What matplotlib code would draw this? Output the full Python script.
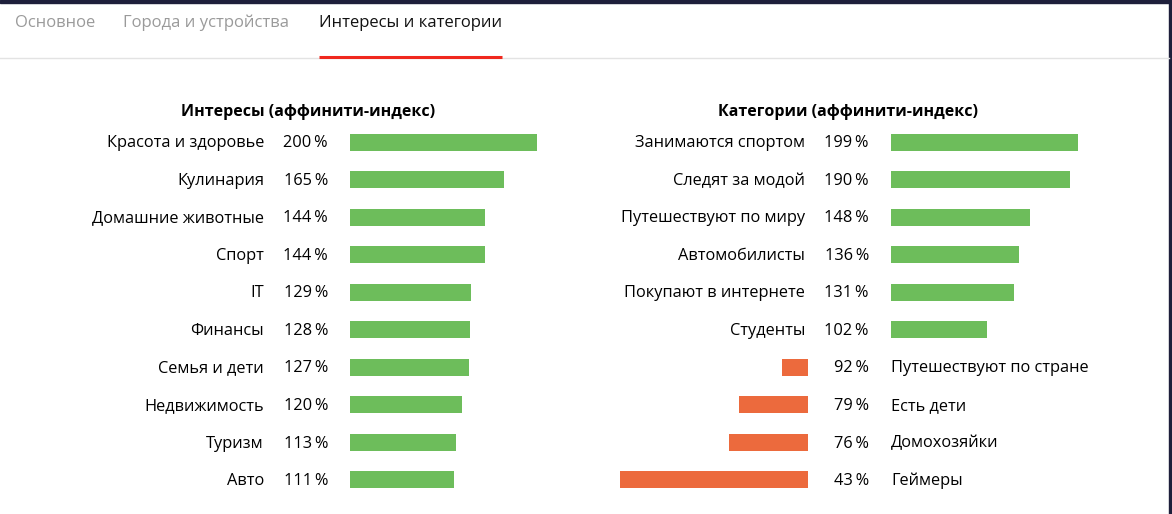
import matplotlib.pyplot as plt
from matplotlib.transforms import blended_transform_factory

W, H = 1172, 514

interest_labels = ["Красота и здоровье", "Кулинария", "Домашние животные", "Спорт", "IT",
                   "Финансы", "Семья и дети", "Недвижимость", "Туризм", "Авто"]
interest_values = [200, 165, 144, 144, 129, 128, 127, 120, 113, 111]

category_labels = ["Занимаются спортом", "Следят за модой", "Путешествуют по миру",
                   "Автомобилисты", "Покупают в интернете", "Студенты",
                   "Путешествуют по стране", "Есть дети", "Домохозяйки", "Геймеры"]
category_values = [199, 190, 148, 136, 131, 102, 92, 79, 76, 43]

tabs = ["Основное", "Города и устройства", "Интересы и категории"]

GREEN = "#6dbd5b"
ORANGE = "#ec6a3d"
FONT = "Open Sans"
FS = 11.8

plt.rcParams['font.family'] = [FONT, 'DejaVu Sans']

fig = plt.figure(figsize=(W / 100, H / 100), dpi=100)
fig.patch.set_facecolor("white")


def fx(px):
    return px / W


def fy(py):
    return 1 - py / H


def px_axes(x0, x1, y0, y1):
    ax = fig.add_axes([fx(x0), fy(y1), fx(x1) - fx(x0), (y1 - y0) / H])
    ax.set_axis_off()
    return ax


# frame bits of the screenshot
bg = fig.add_axes([0, 0, 1, 1])
bg.set_axis_off()
bg.set_xlim(0, W)
bg.set_ylim(H, 0)
bg.axhspan(0, 3, color="#1e1f3b")
bg.axvspan(1169, W, color="#1e1f3b")
bg.plot([0, 1169], [57.5, 57.5], color="#e3e3e3", lw=1)
bg.plot([319, 502], [56.5, 56.5], color="#f0281e", lw=2.2, solid_capstyle="butt")

tab_x = [15, 123, 319]
for i, (t, x) in enumerate(zip(tabs, tab_x)):
    fig.text(fx(x), fy(23), t, fontsize=12, va="center", ha="left",
             color="#111111" if i == 2 else "#9a9a9a")

# titles
fig.text(fx(308), fy(112), "Интересы (аффинити-индекс)", fontsize=11.5, fontweight="bold",
         ha="center", va="center", color="#000")
fig.text(fx(848), fy(112), "Категории (аффинити-индекс)", fontsize=11.5, fontweight="bold",
         ha="center", va="center", color="#000")

rows = list(range(len(interest_values)))
top, bottom = 123.25, 498.75
bh = 17 / 37.5

# left panel
axl = px_axes(350, 537, top, bottom)
axl.barh(rows, interest_values, height=bh, color=GREEN)
axl.set_xlim(0, max(interest_values))
axl.set_ylim(len(rows) - 0.5, -0.5)
tr = blended_transform_factory(fig.transFigure, axl.transData)
for r, (lab, v) in enumerate(zip(interest_labels, interest_values)):
    axl.text(fx(264), r + 0.03, lab, transform=tr, fontsize=FS, ha="right", va="center", color="#000")
    axl.text(fx(328), r + 0.03, f"{v}\u2009%", transform=tr, fontsize=FS, ha="right", va="center", color="#000")

# right panel: above 100 % grows right, below 100 % grows left
above = [(r, v) for r, v in enumerate(category_values) if v >= 100]
below = [(r, v) for r, v in enumerate(category_values) if v < 100]

axg = px_axes(891, 1078, top, bottom)
axg.barh([r for r, _ in above], [v for _, v in above], height=bh, color=GREEN)
axg.set_xlim(0, max(category_values))
axg.set_ylim(len(rows) - 0.5, -0.5)

axo = px_axes(620, 808, top, bottom)
deficit = [100 - v for _, v in below]
axo.barh([r for r, _ in below], deficit, height=bh, color=ORANGE)
axo.set_xlim(max(deficit), 0)
axo.set_ylim(len(rows) - 0.5, -0.5)

tr2 = blended_transform_factory(fig.transFigure, axg.transData)
for r, (lab, v) in enumerate(zip(category_labels, category_values)):
    axg.text(fx(869), r + 0.03, f"{v}\u2009%", transform=tr2, fontsize=FS, ha="right", va="center", color="#000")
    if v >= 100:
        axg.text(fx(805), r + 0.03, lab, transform=tr2, fontsize=FS, ha="right", va="center", color="#000")
    else:
        axg.text(fx(891), r + 0.03, lab, transform=tr2, fontsize=FS, ha="left", va="center", color="#000")

fig.savefig("out.png", dpi=100, facecolor="white")
